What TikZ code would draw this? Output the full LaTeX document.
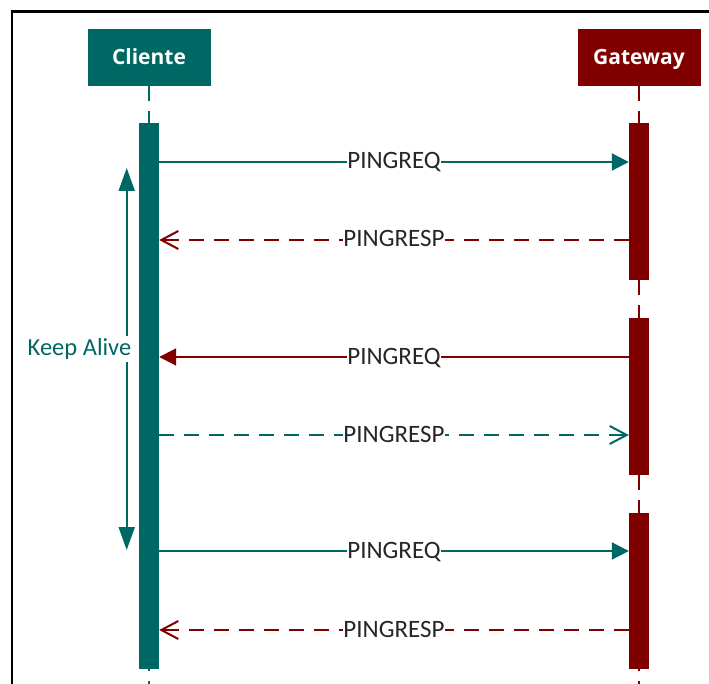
\documentclass[tikz,border=0pt]{standalone}
\usepackage{fontspec}
\setmainfont{Carlito}
\newfontfamily\headfont{Open Sans}
\usetikzlibrary{arrows.meta}
\definecolor{tealc}{RGB}{0,104,100}
\definecolor{redc}{RGB}{128,0,0}
\begin{document}
\begin{tikzpicture}[x=1pt,y=-1pt,
  actor/.style={rectangle, minimum width=123pt, minimum height=57pt, text=white,
    font=\headfont\bfseries\fontsize{21}{21}\selectfont, text height=15pt, text depth=0pt, inner sep=0pt},
  bar/.style={rectangle, minimum width=20pt, inner sep=0pt},
  life/.style={line width=2pt, dash pattern=on 15pt off 10pt},
  msg/.style={line width=2pt},
  lbl/.style={fill=white, text=black!85, font=\fontsize{25}{25}\selectfont,
    inner xsep=0.5pt, inner ysep=0pt, anchor=base, yshift=-7pt},
  req/.style={msg, -{Triangle[length=17pt,width=17pt]}},
  resp/.style={msg, dash pattern=on 15pt off 10pt,
    -{Straight Barb[length=17pt,width=18pt,line width=2pt]}}
]
\useasboundingbox (0,0) rectangle (709,684);

% outer frame
\draw[line width=2.5pt, black] (12,684) -- (12,11.5) -- (709,11.5);

% participants
\node[actor, fill=tealc] (cli) at (149,57.5) {Cliente};
\node[actor, fill=redc]  (gw)  at (639,57.5) {Gateway};

% activation bars
\node[bar, fill=tealc, minimum height=546pt] (cbar) at (149,396) {};
\node[bar, fill=redc, minimum height=157pt] (g1) at (639,201.5) {};
\node[bar, fill=redc, minimum height=157pt] (g2) at (639,396.5) {};
\node[bar, fill=redc, minimum height=156pt] (g3) at (639,591) {};

% lifelines
\coordinate (cend) at (149,684);
\coordinate (gend) at (639,684);
\draw[life, tealc] (cli.south) -- (cbar.north);
\draw[line width=2pt, tealc, dash pattern=on 2pt off 10pt on 15pt off 10pt] (cbar.south) -- (cend);
\draw[life, redc] (gw.south) -- (g1.north);
\draw[life, redc] (g1.south) -- (g2.north);
\draw[life, redc] (g2.south) -- (g3.north);
\draw[line width=2pt, redc, dash pattern=on 2pt off 10pt on 15pt off 10pt] (g3.south) -- (gend);

% message rows
\coordinate (r1) at (0,162);
\coordinate (r2) at (0,240);
\coordinate (r3) at (0,357);
\coordinate (r4) at (0,435);
\coordinate (r5) at (0,551);
\coordinate (r6) at (0,630);

\draw[req, tealc] (cbar.east |- r1) -- node[lbl] {PINGREQ} (g1.west |- r1);
\draw[resp, redc] (g1.west |- r2) -- node[lbl] {PINGRESP} (cbar.east |- r2);
\draw[req, redc] (g2.west |- r3) -- node[lbl] {PINGREQ} (cbar.east |- r3);
\draw[resp, tealc] (cbar.east |- r4) -- node[lbl] {PINGRESP} (g2.west |- r4);
\draw[req, tealc] (cbar.east |- r5) -- node[lbl] {PINGREQ} (g3.west |- r5);
\draw[resp, redc] (g3.west |- r6) -- node[lbl] {PINGRESP} (cbar.east |- r6);

% keep alive interval
\coordinate (kat) at (126.7,168);
\coordinate (kab) at (126.7,550);
\draw[tealc, line width=2pt, {Triangle[length=23pt,width=16pt]}-{Triangle[length=23pt,width=16pt]}] (kat) -- (kab);
\node[fill=white, text=tealc, font=\fontsize{24.5}{24.5}\selectfont, inner xsep=1pt, inner ysep=2.5pt] (ka) at (79.5,349) {Keep Alive};
\end{tikzpicture}
\end{document}
